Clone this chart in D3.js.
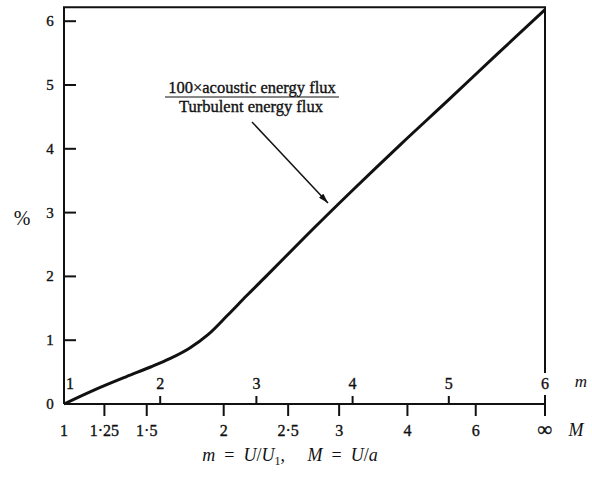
<!DOCTYPE html>
<html>
<head>
<meta charset="utf-8">
<script src="https://cdn.jsdelivr.net/npm/d3@7"></script>
<style>
  body { margin: 0; background: #fff; }
  text { font-family: "Liberation Serif", "DejaVu Serif", serif; fill: #111; }
  .heavy { stroke: #111; stroke-width: 0.35; }
</style>
</head>
<body>
<div id="chart"></div>
<script>
const width = 592;
const height = 485;

// curve: m = U/U1, percent
const mValues = [1.0, 1.3, 1.65, 1.9, 2.1, 2.3, 2.5, 2.7, 2.9, 3.1, 3.5, 4.0, 4.5, 5.0, 5.5, 6.0];
const percentValues = [0, 0.21, 0.43, 0.58, 0.71, 0.87, 1.09, 1.39, 1.70, 2.00, 2.61, 3.35, 4.07, 4.77, 5.48, 6.18];

const yTicks = [0, 1, 2, 3, 4, 5, 6];
const mTicks = [1, 2, 3, 4, 5, 6];
// Mach number ticks and where they fall on the m scale
const machLabels = ['1', '1·25', '1·5', '2', '2·5', '3', '4', '6', '∞'];
const machAtM = [1, 1.42, 1.86, 2.66, 3.33, 3.86, 4.57, 5.28, 6];

const svg = d3.select('#chart')
    .append('svg')
    .attr('width', width)
    .attr('height', height);

const x = d3.scaleLinear().domain([1, 6]).range([64, 545]);
const y = d3.scaleLinear().domain([0, 6]).range([404, 21.2]);
const yTop = y(6.22);

const ink = '#111';

// frame
svg.append('line').attr('x1', x(1)).attr('x2', x(1)).attr('y1', y(0)).attr('y2', yTop)
    .attr('stroke', ink).attr('stroke-width', 2);
svg.append('line').attr('x1', x(1) - 1).attr('x2', x(6) + 1).attr('y1', yTop).attr('y2', yTop)
    .attr('stroke', ink).attr('stroke-width', 2);
svg.append('line').attr('x1', x(6)).attr('x2', x(6)).attr('y1', yTop).attr('y2', 373)
    .attr('stroke', ink).attr('stroke-width', 2);
svg.append('line').attr('x1', x(6)).attr('x2', x(6)).attr('y1', 395).attr('y2', y(0) + 12)
    .attr('stroke', ink).attr('stroke-width', 2);
svg.append('line').attr('x1', x(1)).attr('x2', x(6)).attr('y1', y(0)).attr('y2', y(0))
    .attr('stroke', ink).attr('stroke-width', 2);

// y ticks (inward) and labels
svg.selectAll('.ytick')
    .data(yTicks.filter(d => d > 0))
    .enter()
    .append('line')
    .attr('x1', x(1)).attr('x2', x(1) + 12)
    .attr('y1', d => y(d)).attr('y2', d => y(d))
    .attr('stroke', ink).attr('stroke-width', 2);

svg.selectAll('.ylab')
    .data(yTicks)
    .enter()
    .append('text')
    .attr('class', 'heavy')
    .attr('x', 50)
    .attr('y', d => y(d) + 5)
    .attr('text-anchor', 'middle')
    .attr('font-size', 15)
    .text(d => d);

svg.append('text')
    .attr('x', 22).attr('y', 225)
    .attr('text-anchor', 'middle')
    .attr('font-size', 20)
    .text('%');

// m ticks (up) and labels
svg.selectAll('.mtick')
    .data(mTicks.filter(d => d > 1 && d < 6))
    .enter()
    .append('line')
    .attr('x1', d => x(d)).attr('x2', d => x(d))
    .attr('y1', y(0)).attr('y2', y(0) - 8)
    .attr('stroke', ink).attr('stroke-width', 2);

svg.selectAll('.mlab')
    .data(mTicks)
    .enter()
    .append('text')
    .attr('class', 'heavy')
    .attr('x', d => d === 1 ? x(d) + 6 : x(d))
    .attr('y', 389)
    .attr('text-anchor', 'middle')
    .attr('font-size', 16)
    .text(d => d);

svg.append('text')
    .attr('x', 581).attr('y', 387)
    .attr('text-anchor', 'middle')
    .attr('font-size', 17)
    .attr('font-style', 'italic')
    .text('m');

// Mach ticks (down) and labels
svg.selectAll('.Mtick')
    .data(machAtM.filter(d => d > 1 && d < 6))
    .enter()
    .append('line')
    .attr('x1', d => x(d)).attr('x2', d => x(d))
    .attr('y1', y(0)).attr('y2', y(0) + 12)
    .attr('stroke', ink).attr('stroke-width', 2);

svg.selectAll('.Mlab')
    .data(machLabels)
    .enter()
    .append('text')
    .attr('class', 'heavy')
    .attr('x', (d, i) => x(machAtM[i]))
    .attr('y', 436)
    .attr('text-anchor', 'middle')
    .attr('font-size', d => d === '∞' ? 20 : 16)
    .attr('font-weight', d => d === '∞' ? 'bold' : 'normal')
    .text(d => d);

svg.append('text')
    .attr('x', 576).attr('y', 436)
    .attr('text-anchor', 'middle')
    .attr('font-size', 18)
    .attr('font-style', 'italic')
    .text('M');

// curve
const line = d3.line()
    .x((d, i) => x(mValues[i]))
    .y(d => y(d))
    .curve(d3.curveMonotoneX);

svg.append('path')
    .attr('d', line(percentValues))
    .attr('fill', 'none')
    .attr('stroke', ink)
    .attr('stroke-width', 3);

// label fraction
const lab = svg.append('g');
lab.append('text')
    .attr('class', 'heavy')
    .attr('x', 252).attr('y', 93)
    .attr('text-anchor', 'middle')
    .attr('font-size', 16.5)
    .text('100×acoustic energy flux');
lab.append('line')
    .attr('x1', 165).attr('x2', 339).attr('y1', 97).attr('y2', 97)
    .attr('stroke', ink).attr('stroke-width', 1.2);
lab.append('text')
    .attr('class', 'heavy')
    .attr('x', 251).attr('y', 112)
    .attr('text-anchor', 'middle')
    .attr('font-size', 16.5)
    .text('Turbulent energy flux');

// arrow
svg.append('defs').append('marker')
    .attr('id', 'head')
    .attr('viewBox', '0 0 10 6')
    .attr('refX', 10).attr('refY', 3)
    .attr('markerWidth', 11).attr('markerHeight', 6)
    .attr('markerUnits', 'userSpaceOnUse')
    .attr('orient', 'auto')
    .append('path')
    .attr('d', 'M0,0 L10,3 L0,6 Z')
    .attr('fill', ink);

svg.append('line')
    .attr('x1', 252).attr('y1', 122)
    .attr('x2', 328).attr('y2', 203)
    .attr('stroke', ink).attr('stroke-width', 1.5)
    .attr('marker-end', 'url(#head)');

// caption
const cap = svg.append('text')
    .attr('x', 290).attr('y', 461)
    .attr('text-anchor', 'middle')
    .attr('font-size', 18)
    .attr('xml:space', 'preserve');
const parts = [
    ['m', 'italic'], ['  =  ', 'normal'], ['U', 'italic'], ['/', 'normal'], ['U', 'italic'],
    ['1', 'sub'], [',     ', 'normal'], ['M', 'italic'], ['  =  ', 'normal'], ['U', 'italic'],
    ['/', 'normal'], ['a', 'italic']
];
parts.forEach(p => {
    const t = cap.append('tspan').text(p[0]);
    if (p[1] === 'italic') t.attr('font-style', 'italic');
    if (p[1] === 'sub') t.attr('font-size', 12).attr('dy', 4);
    if (p[0].startsWith(',')) t.attr('dy', -4);
});
</script>
</body>
</html>
